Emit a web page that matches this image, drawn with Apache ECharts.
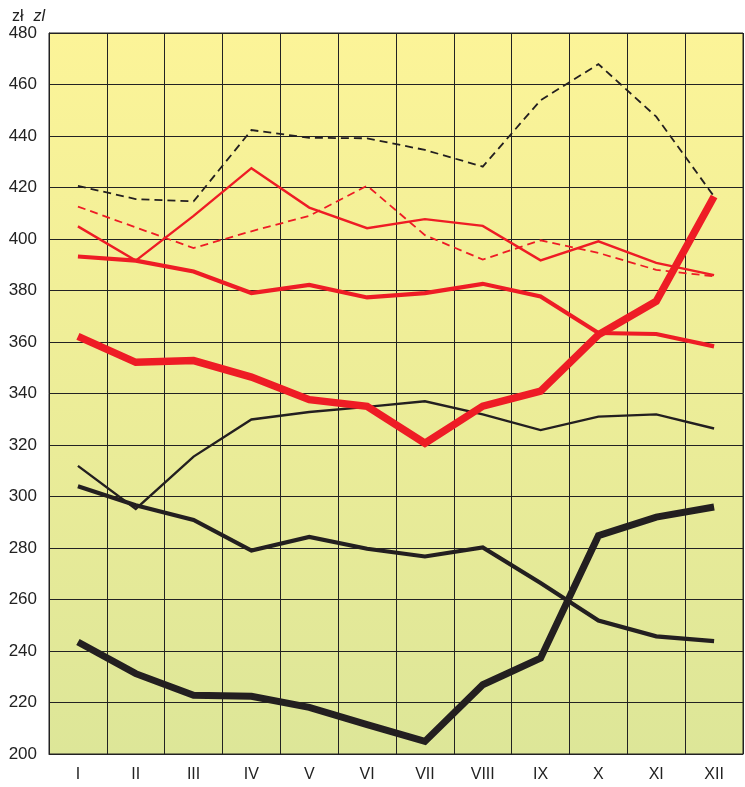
<!DOCTYPE html>
<html>
<head>
<meta charset="utf-8">
<script src="https://cdn.jsdelivr.net/npm/echarts@6/dist/echarts.min.js"></script>
<style>
html,body{margin:0;padding:0;background:#fff;}
#chart{width:745px;height:787px;}
</style>
</head>
<body>
<div id="chart"></div>
<script>
var categories = ['I','II','III','IV','V','VI','VII','VIII','IX','X','XI','XII'];
var blackDashed = [420.6, 415.5, 414.6, 442.3, 439.3, 439.1, 434.6, 428.1, 453.9, 467.9, 447.5, 416.5];
var redDashed   = [412.6, 404.5, 396.5, 403.0, 409.0, 420.7, 401.5, 392.0, 399.5, 394.6, 388.0, 385.5];
var redThin     = [404.9, 391.6, 409.0, 427.5, 412.2, 404.2, 407.7, 405.1, 391.7, 399.1, 390.7, 386.0];
var redMedium   = [393.2, 391.6, 387.4, 379.0, 382.2, 377.3, 379.0, 382.6, 377.7, 363.5, 363.1, 358.3];
var redThick    = [362.2, 352.1, 352.8, 346.4, 337.6, 335.0, 320.7, 335.1, 340.9, 362.8, 375.8, 416.5];
var blackThin   = [311.9, 295.2, 315.5, 329.9, 332.8, 334.8, 337.0, 331.9, 325.8, 331.0, 331.9, 326.4];
var blackMedium = [304.0, 296.6, 290.9, 279.0, 284.3, 279.7, 276.7, 280.2, 266.4, 251.8, 245.7, 243.8];
var blackThick  = [243.5, 231.2, 222.8, 222.4, 218.1, 211.4, 204.9, 226.9, 237.2, 284.8, 292.0, 295.9];
var yTicks = [200, 480, 20];

var RED = '#ee1c25';
var BLK = '#231f20';

function line(data, color, width, type) {
  return {
    type: 'line',
    data: data,
    symbol: 'none',
    silent: true,
    lineStyle: { color: color, width: width, type: type || 'solid', cap: 'butt', join: 'miter' }
  };
}

var chart = echarts.init(document.getElementById('chart'), null, { renderer: 'canvas' });
chart.setOption({
  animation: false,
  backgroundColor: '#ffffff',
  title: {
    left: 7, top: 3,
    text: '{a|zł}  {b|zl}',
    textStyle: {
      fontWeight: 'normal',
      rich: {
        a: { fontFamily: 'Liberation Sans, Arial, sans-serif', fontSize: 16, fontWeight: 'normal', color: '#222' },
        b: { fontFamily: 'Liberation Sans, Arial, sans-serif', fontSize: 16, fontWeight: 'normal', fontStyle: 'italic', color: '#222' }
      }
    }
  },
  grid: {
    left: 49, right: 2, top: 33, bottom: 33,
    show: true,
    borderColor: '#222',
    borderWidth: 1,
    backgroundColor: {
      type: 'linear', x: 0, y: 0, x2: 0, y2: 1,
      colorStops: [
        { offset: 0, color: '#fcf498' },
        { offset: 1, color: '#dde698' }
      ]
    }
  },
  xAxis: {
    type: 'category',
    data: categories,
    boundaryGap: true,
    axisTick: { show: false },
    axisLine: { show: true, lineStyle: { color: '#222', width: 1 } },
    axisLabel: { color: '#222', fontSize: 16, margin: 13, fontFamily: 'Liberation Sans, Arial, sans-serif' },
    splitLine: { show: true, lineStyle: { color: '#222', width: 1 } }
  },
  yAxis: {
    type: 'value',
    min: yTicks[0], max: yTicks[1], interval: yTicks[2],
    axisTick: { show: false },
    axisLine: { show: true, lineStyle: { color: '#222', width: 1 } },
    axisLabel: { color: '#222', fontSize: 17, margin: 12, fontFamily: 'Liberation Sans, Arial, sans-serif' },
    splitLine: { show: true, lineStyle: { color: '#222', width: 1 } }
  },
  series: [
    line(blackDashed, BLK, 1.8, [8, 5]),
    line(redDashed, RED, 1.8, [8, 5]),
    line(redThin, RED, 2.4),
    line(blackThin, BLK, 2.4),
    line(redMedium, RED, 4.2),
    line(blackMedium, BLK, 4.2),
    line(blackThick, BLK, 7),
    line(redThick, RED, 7.5)
  ]
});
</script>
</body>
</html>
